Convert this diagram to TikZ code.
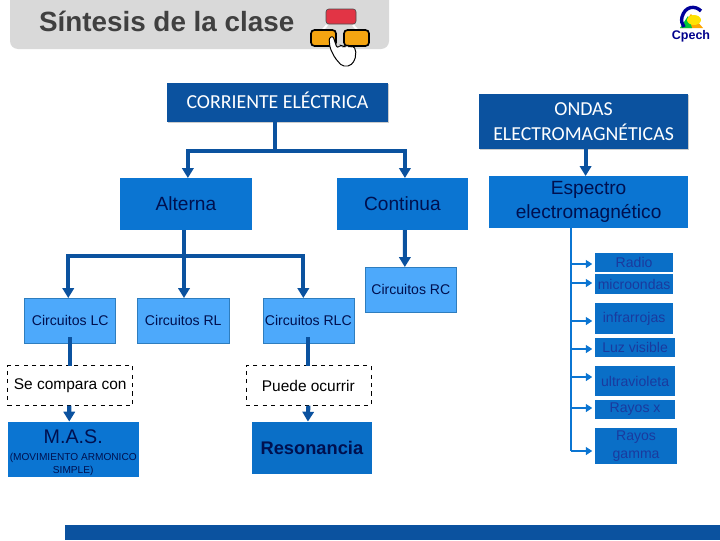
\documentclass[tikz,border=0pt]{standalone}
\usepackage{fontspec}
\setmainfont{Liberation Sans}
\newfontfamily\calibrifont{Carlito}
\usetikzlibrary{positioning, arrows.meta, shadows}
\definecolor{darkblue}{HTML}{0B529F}
\definecolor{midblue}{HTML}{0B75D2}
\definecolor{lightblue}{HTML}{4DA9FB}
\definecolor{borderblue}{HTML}{2E7DBE}
\definecolor{navytext}{HTML}{00104F}
\definecolor{spectext}{HTML}{1A3A9E}
\definecolor{headgray}{HTML}{D9D9D9}
\definecolor{iconred}{HTML}{E23445}
\definecolor{iconorange}{HTML}{F5A511}

\begin{document}
\begin{tikzpicture}[
    x=0.025cm,
    y=-0.025cm,
    every node/.style={outer sep=0pt},
    head/.style={
        rectangle,
        fill=darkblue,
        text=white,
        align=center,
        inner sep=0pt,
        font=\calibrifont\fontsize{14.1}{17.5}\selectfont,
        drop shadow={shadow xshift=0.4pt, shadow yshift=-0.6pt, opacity=0.4}
    },
    topic/.style={
        rectangle,
        fill=midblue,
        text=navytext,
        align=center,
        inner sep=0pt,
        font=\fontsize{13.6}{17}\selectfont
    },
    circuit/.style={
        draw=borderblue,
        rectangle,
        fill=lightblue,
        text=navytext,
        inner sep=0pt,
        minimum width=2.275cm,
        minimum height=1.125cm,
        font=\fontsize{10}{12}\selectfont
    },
    note/.style={
        draw,
        dashed,
        rectangle,
        fill=white,
        inner sep=0pt,
        minimum width=3.125cm,
        minimum height=1cm,
        font=\fontsize{11}{13}\selectfont
    },
    wave/.style={
        rectangle,
        fill=midblue!95!black,
        text=spectext,
        align=center,
        inner sep=0pt,
        minimum width=1.95cm,
        font=\fontsize{10}{12.5}\selectfont
    },
    bar/.style={
        draw=darkblue,
        line width=2.9pt
    },
    arrow/.style={
        -{Triangle[width=8pt,length=7pt]},
        draw=darkblue,
        line width=2.9pt
    },
    trunk/.style={
        draw=midblue,
        line width=1.8pt
    },
    branch/.style={
        -{Triangle[width=5.5pt,length=4.5pt]},
        draw=midblue,
        line width=1.8pt,
        shorten >=2pt
    }
]
\useasboundingbox (0,0) rectangle (720,540);

% Header
\fill[headgray] (10,0) [rounded corners=0.2cm] -- (10,49) -- (389,49) [sharp corners] -- (389,0) -- cycle;
\node[anchor=west, inner sep=0pt, text=black!75, font=\bfseries\fontsize{19.8}{24}\selectfont] (title) at (39,21) {Síntesis de la clase};

% Header icon
\draw[white, line width=1.5pt] (327,25) -- (321,32);
\draw[white, line width=1.5pt] (353,25) -- (359,32);
\draw[fill=iconred, draw=black!70, rounded corners=2pt] (326,9) rectangle (356,24);
\draw[fill=iconorange, draw=black, line width=1.2pt, rounded corners=2.5pt] (311,30) rectangle (336,46);
\draw[fill=iconorange, draw=black, line width=1.2pt, rounded corners=2.5pt] (344,30) rectangle (369,46);
\draw[fill=white, draw=black, line width=0.7pt, rounded corners=1.5pt] (329,38) -- (333,36) -- (337,48) -- (341,45) -- (344,47) -- (347,45) -- (350,47) -- (353,46) -- (356,50) -- (355,60) -- (350,66) -- (342,66) -- (335,58) -- (330,48) -- cycle;

% Logo
\fill[orange!70!yellow] (680,28) -- (691,14) -- (703,28) -- cycle;
\fill[green!55!teal] (680,28) -- (688,16) -- (692,28) -- cycle;
\fill[yellow!85!orange] (694,20) ellipse (7 and 5);
\draw[blue!60!black, line width=2.4pt] (701,11) .. controls (695,5) and (685,6) .. (682,17) .. controls (681,21) and (682,24) .. (684,27);
\node[inner sep=0pt, text=blue!55!black, font=\bfseries\fontsize{8.9}{11}\selectfont] (logo) at (691,36) {Cpech};

% Corriente electrica
\node[head, minimum width=5.525cm, minimum height=0.975cm, text depth=3pt] (corriente) at (277.5,102.5) {CORRIENTE ELÉCTRICA};
\node[topic, minimum width=3.3cm, minimum height=1.3cm, below=1.4cm of corriente, xshift=-2.29cm] (alterna) {Alterna};
\node[topic, minimum width=3.275cm, minimum height=1.3cm, right=2.125cm of alterna] (continua) {Continua};

\node[circuit, below=1.7cm of alterna, xshift=-2.89cm] (lc) {Circuitos LC};
\node[circuit, right=0.55cm of lc] (rl) {Circuitos RL};
\node[circuit, right=0.85cm of rl] (rlc) {Circuitos RLC};
\node[circuit, below=0.925cm of continua, xshift=0.21cm] (rc) {Circuitos RC};

\node[note, below=0.5625cm of lc] (compara) {Se compara con};
\node[note, below=0.5625cm of rlc] (puede) {Puede ocurrir};

\node[topic, minimum width=3.275cm, minimum height=1.375cm, below=0.4cm of compara, xshift=0.075cm] (mas) {\rule{0pt}{15pt}\fontsize{14}{16}\selectfont M.A.S.\\[-4.6pt]\fontsize{7.2}{9.5}\selectfont (MOVIMIENTO ARMONICO\\[-7.5pt]\fontsize{7.2}{9.5}\selectfont SIMPLE)};
\node[topic, fill=midblue!95!black, minimum width=3cm, minimum height=1.3cm, below=0.4cm of puede, xshift=0.09cm, font=\bfseries\fontsize{13}{16}\selectfont] (resonancia) {Resonancia};

% Ondas
\node[head, minimum width=5.225cm, minimum height=1.375cm, right=2.275cm of corriente, yshift=-0.475cm] (ondas) {ONDAS\\ELECTROMAGNÉTICAS};
\node[topic, minimum width=4.975cm, minimum height=1.3cm, below=0.675cm of ondas, xshift=0.125cm] (espectro) {Espectro\\electromagnético};

\node[wave, minimum height=0.475cm, below=0.625cm of espectro, xshift=1.1375cm] (radio) {Radio};
\node[wave, minimum height=0.5cm, below=0.05cm of radio] (micro) {microondas};
\node[wave, minimum height=0.775cm, below=0.225cm of micro] (infra) {infrarrojas};
\node[wave, minimum width=2cm, minimum height=0.475cm, below=0.1cm of infra, xshift=0.025cm] (luz) {Luz visible};
\node[wave, minimum width=2cm, minimum height=0.75cm, below=0.225cm of luz] (ultra) {ultravioleta};
\node[wave, minimum width=2cm, minimum height=0.475cm, below=0.1cm of ultra] (rayosx) {Rayos x};
\node[wave, minimum width=2.05cm, minimum height=0.9cm, below=0.225cm of rayosx, xshift=0.025cm] (gamma) {Rayos\\gamma};

% Connections Corriente
\coordinate (split1) at (275,151);
\coordinate (split2) at (184,256);
\draw[bar] (split1 |- corriente.south) -- (split1);
\draw[arrow] (split1) -| ([xshift=0.05cm]alterna.north);
\draw[arrow] (split1) -| ([xshift=0.0625cm]continua.north);
\draw[bar] (split2 |- alterna.south) -- (split2);
\draw[arrow] (split2) -| ([xshift=-0.05cm]lc.north);
\draw[arrow] (split2) -- (split2 |- rl.north);
\draw[arrow] (split2) -| ([xshift=-0.125cm]rlc.north);
\draw[arrow] ([xshift=0.0625cm]continua.south) -- ([xshift=-0.15cm]rc.north);

\draw[bar] ([yshift=0.15cm]lc.south) -- (compara.north);
\draw[bar] ([yshift=0.15cm]rlc.south) -- (puede.north);
\draw[arrow] ([xshift=-0.025cm]compara.south) -- ([xshift=-0.1cm]mas.north);
\draw[arrow] (puede.south) -- ([xshift=-0.1cm]resonancia.north);

% Connections Ondas
\draw[arrow] ([xshift=0.05cm]ondas.south) -- ([xshift=-0.075cm]espectro.north);

\coordinate (wave1) at (571,264);
\coordinate (wave2) at (571,283);
\coordinate (wave3) at (571,321);
\coordinate (wave4) at (571,349);
\coordinate (wave5) at (571,377);
\coordinate (wave6) at (571,408);
\coordinate (wave7) at (571,451);
\draw[trunk] (wave7 |- espectro.south) -- (wave7);
\draw[branch] (wave1) -- (wave1 -| radio.west);
\draw[branch] (wave2) -- (wave2 -| micro.west);
\draw[branch] (wave3) -- (wave3 -| infra.west);
\draw[branch] (wave4) -- (wave4 -| luz.west);
\draw[branch] (wave5) -- (wave5 -| ultra.west);
\draw[branch] (wave6) -- (wave6 -| rayosx.west);
\draw[branch] (wave7) -- (wave7 -| gamma.west);

% Footer
\fill[darkblue] (65,525) rectangle (720,540);

\end{tikzpicture}
\end{document}
